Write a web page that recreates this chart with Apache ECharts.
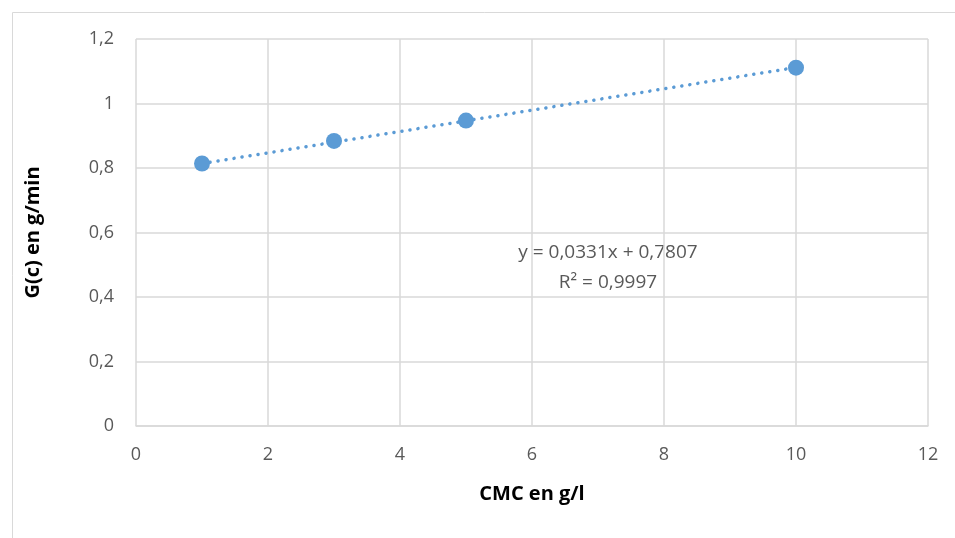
<!DOCTYPE html>
<html>
<head>
<meta charset="utf-8">
<script src="https://cdn.jsdelivr.net/npm/echarts@6/dist/echarts.min.js"></script>
<style>
  html, body { margin: 0; padding: 0; background: #fff; }
  #chart { width: 955px; height: 538px; }
</style>
</head>
<body>
<div id="chart"></div>
<script>
// mesures G(c) en fonction de la CMC
var cmc = [1, 3, 5, 10];
var debit = [0.814, 0.884, 0.947, 1.111];
// courbe de tendance (extrémités)
var trendX = [1, 10];
var trendY = [0.8138, 1.1117];
var equation = ['y = 0,0331x + 0,7807', 'R² = 0,9997'];

var myChart = echarts.init(document.getElementById('chart'));
var font = 'Open Sans';

var option = {
    animation: false,
    textStyle: { fontFamily: font },
    grid: {
        left: 136,
        right: 27,
        top: 39,
        bottom: 112
    },
    xAxis: {
        type: 'value',
        min: 0,
        max: 12,
        interval: 2,
        name: 'CMC en g/l',
        nameLocation: 'middle',
        nameGap: 58,
        nameTextStyle: { color: '#000', fontSize: 20, fontWeight: 'bold', fontFamily: font },
        axisLine: { show: true, lineStyle: { color: '#d9d9d9', width: 1.5 } },
        axisTick: { show: false },
        axisLabel: { color: '#595959', fontSize: 18, margin: 20, fontFamily: font },
        splitLine: { show: true, lineStyle: { color: '#d9d9d9', width: 1.5 } }
    },
    yAxis: {
        type: 'value',
        min: 0,
        max: 1.2,
        interval: 0.2,
        name: 'G(c) en g/min',
        nameLocation: 'middle',
        nameGap: 93,
        nameTextStyle: { color: '#000', fontSize: 20, fontWeight: 'bold', fontFamily: font },
        axisLine: { show: false },
        axisTick: { show: false },
        axisLabel: {
            color: '#595959',
            fontSize: 18,
            margin: 22,
            fontFamily: font,
            formatter: function (v) {
                return String(Math.round(v * 10) / 10).replace('.', ',');
            }
        },
        splitLine: { show: true, lineStyle: { color: '#d9d9d9', width: 1.5 } }
    },
    series: [
        {
            name: 'tendance',
            type: 'line',
            data: trendX.map(function (x, i) { return [x, trendY[i]]; }),
            symbol: 'none',
            lineStyle: { color: '#5b9bd5', width: 3.5, type: [0.1, 8], cap: 'round' },
            z: 1
        },
        {
            name: 'G(c)',
            type: 'scatter',
            data: cmc.map(function (x, i) { return [x, debit[i]]; }),
            symbol: 'circle',
            symbolSize: 16,
            itemStyle: { color: '#5b9bd5', opacity: 1 },
            z: 3
        }
    ],
    graphic: [
        {
            type: 'rect',
            left: 10,
            top: 10,
            shape: { width: 960, height: 540 },
            style: { fill: 'none', stroke: '#d9d9d9', lineWidth: 1 },
            z: -1
        },
        {
            type: 'text',
            x: 608,
            y: 238,
            style: {
                text: equation[0] + '\n' + equation[1],
                align: 'center',
                fill: '#595959',
                font: '19px "Open Sans"',
                lineHeight: 30
            }
        }
    ]
};
myChart.setOption(option);

window.addEventListener('resize', function () {
    myChart.resize();
});
</script>
</body>
</html>
